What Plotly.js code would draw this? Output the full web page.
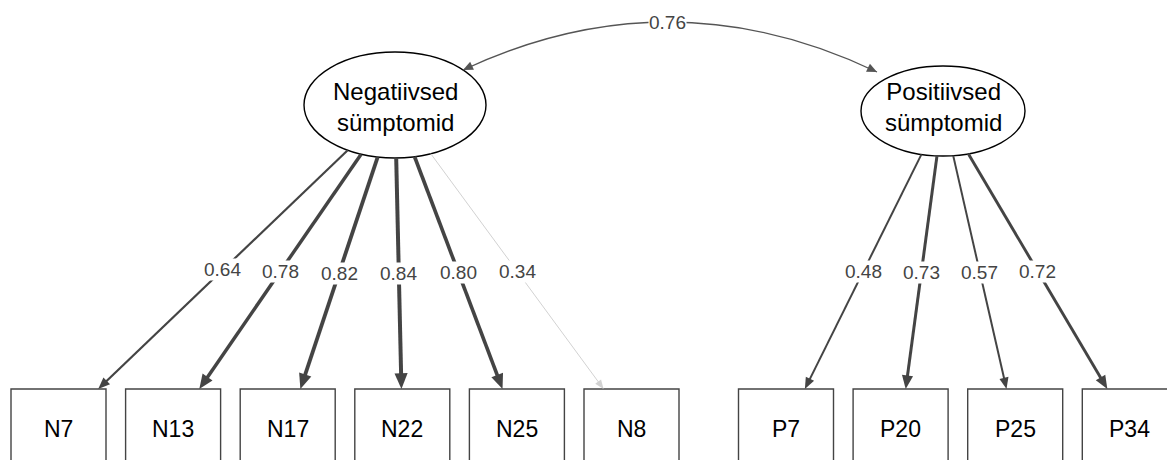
<!DOCTYPE html>
<html>
<head>
<meta charset="utf-8">
<script src="https://cdn.plot.ly/plotly-3.0.1.min.js"></script>
<style>html,body{margin:0;padding:0;background:#fff;}#chart{width:1167px;height:460px;}</style>
</head>
<body>
<div id="chart"></div>
<script>
// ---- data ----
const latentLabels = ['Negatiivsed<br>sümptomid', 'Positiivsed<br>sümptomid'];
const covarianceValue = 0.76;
const negItems = ['N7', 'N13', 'N17', 'N22', 'N25', 'N8'];
const negLoadings = [0.64, 0.78, 0.82, 0.84, 0.80, 0.34];
const posItems = ['P7', 'P20', 'P25', 'P34'];
const posLoadings = [0.48, 0.73, 0.57, 0.72];

// ---- layout geometry (pixel space) ----
const W = 1167, H = 460;
const FONT = 'Liberation Sans, Arial, sans-serif';
const latents = [
  {cx: 395, cy: 105, rx: 91, ry: 53, labelY: 107},
  {cx: 943, cy: 111, rx: 82, ry: 45, labelY: 107}
];
const groups = [
  {latent: 0, items: negItems, loadings: negLoadings, x0: 58.5, step: 114.6},
  {latent: 1, items: posItems, loadings: posLoadings, x0: 786, step: 114.6}
];
const boxTop = 389, boxBottom = 466, boxHalfW = 47.5, boxCY = 427;

function edgeWidth(l) { return l < 0.4 ? 1 : Math.min(4.2, 2.0 + Math.max(0, l - 0.62) * 9); }
function edgeColor(l) { return l < 0.4 ? '#d2d2d2' : '#444444'; }

const shapes = [];
const annotations = [];

function arrowHead(tip, ux, uy, L, hw, color) {
  const bx = tip[0] - L * ux, by = tip[1] - L * uy;
  const px = -uy, py = ux;
  shapes.push({
    type: 'path', xref: 'x', yref: 'y',
    path: `M${tip[0]},${tip[1]} L${bx + hw * px},${by + hw * py} L${bx - hw * px},${by - hw * py} Z`,
    fillcolor: color, line: {width: 0}
  });
  return [bx, by];
}

// latent ellipses + labels
latents.forEach((n, i) => {
  shapes.push({type: 'circle', xref: 'x', yref: 'y',
    x0: n.cx - n.rx, x1: n.cx + n.rx, y0: n.cy - n.ry, y1: n.cy + n.ry,
    line: {color: '#000000', width: 1.4}, fillcolor: 'rgba(255,255,255,0)'});
  annotations.push({x: n.cx, y: n.labelY, xref: 'x', yref: 'y', text: latentLabels[i],
    showarrow: false, font: {family: FONT, size: 24, color: '#000'}, xanchor: 'center', yanchor: 'middle'});
});

// items, loadings
groups.forEach(g => {
  const n = latents[g.latent];
  g.items.forEach((name, i) => {
    const bx = g.x0 + i * g.step;
    shapes.push({type: 'rect', xref: 'x', yref: 'y',
      x0: bx - boxHalfW, x1: bx + boxHalfW, y0: boxTop, y1: boxBottom,
      line: {color: '#444444', width: 1.4}, fillcolor: 'rgba(255,255,255,0)'});
    annotations.push({x: bx, y: boxCY + 2, xref: 'x', yref: 'y', text: name, showarrow: false,
      font: {family: FONT, size: 23, color: '#000'}, xanchor: 'center', yanchor: 'middle'});

    const l = g.loadings[i];
    const dx = bx - n.cx, dy = boxCY - n.cy;
    const len = Math.hypot(dx, dy), ux = dx / len, uy = dy / len;
    const te = 1 / Math.sqrt((dx / n.rx) ** 2 + (dy / n.ry) ** 2);
    const start = [n.cx + te * dx, n.cy + te * dy];
    const tb = (boxTop - n.cy) / dy;
    const tip = [n.cx + tb * dx, n.cy + tb * dy];
    const w = edgeWidth(l), col = edgeColor(l);
    const base = arrowHead(tip, ux, uy, 7 + 2.2 * w, 2.6 + 1.0 * w, col);
    shapes.push({type: 'line', xref: 'x', yref: 'y',
      x0: start[0], y0: start[1], x1: base[0] + 2 * ux, y1: base[1] + 2 * uy,
      line: {color: col, width: w}});
    annotations.push({x: (start[0] + tip[0]) / 2, y: (start[1] + tip[1]) / 2, xref: 'x', yref: 'y',
      text: l.toFixed(2), showarrow: false, bgcolor: '#ffffff', borderpad: 0,
      font: {family: FONT, size: 19, color: '#444'}, xanchor: 'center', yanchor: 'middle'});
  });
});

// covariance curve between latents
(function () {
  const a = latents[0], b = latents[1];
  const p0 = [a.cx + 68, a.cy - 35];
  const p2 = [b.cx - 66, b.cy - 39];
  const c = [(p0[0] + p2[0]) / 2, -27];
  const color = '#555555';
  const t0 = [p0[0] - c[0], p0[1] - c[1]], l0 = Math.hypot(t0[0], t0[1]);
  const t2 = [p2[0] - c[0], p2[1] - c[1]], l2 = Math.hypot(t2[0], t2[1]);
  arrowHead(p0, t0[0] / l0, t0[1] / l0, 10, 4.5, color);
  arrowHead(p2, t2[0] / l2, t2[1] / l2, 10, 4.5, color);
  shapes.push({type: 'path', xref: 'x', yref: 'y',
    path: `M${p0[0]},${p0[1]} Q${c[0]},${c[1]} ${p2[0]},${p2[1]}`,
    line: {color: color, width: 1.3}});
  const mx = 0.25 * p0[0] + 0.5 * c[0] + 0.25 * p2[0];
  const my = 0.25 * p0[1] + 0.5 * c[1] + 0.25 * p2[1];
  annotations.push({x: mx - 3, y: my, xref: 'x', yref: 'y', text: covarianceValue.toFixed(2),
    showarrow: false, bgcolor: '#ffffff', borderpad: 0,
    font: {family: FONT, size: 19, color: '#444'}, xanchor: 'center', yanchor: 'middle'});
})();

const layout = {
  width: W, height: H,
  margin: {l: 0, r: 0, t: 0, b: 0},
  paper_bgcolor: '#ffffff', plot_bgcolor: '#ffffff',
  xaxis: {range: [0, W], visible: false, fixedrange: true},
  yaxis: {range: [H, 0], visible: false, fixedrange: true},
  showlegend: false,
  shapes: shapes,
  annotations: annotations
};
Plotly.newPlot('chart', [{x: [], y: [], type: 'scatter', mode: 'markers', hoverinfo: 'skip'}], layout,
  {staticPlot: true, displayModeBar: false});
</script>
</body>
</html>
